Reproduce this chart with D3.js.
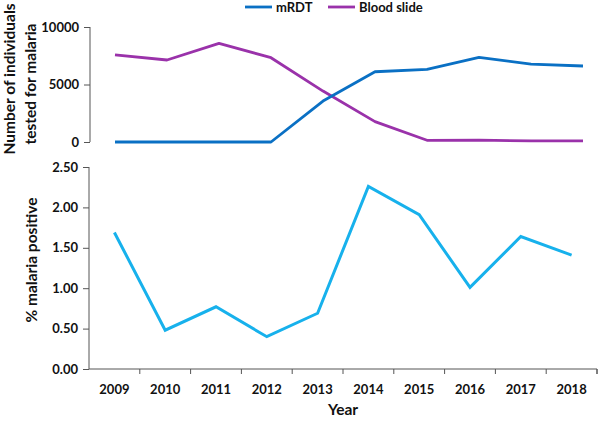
<!DOCTYPE html>
<html><head><meta charset="utf-8">
<script src="https://cdn.jsdelivr.net/npm/d3@7"></script>
<style>body{margin:0;background:#fff}svg{display:block}text{font-family:Lato,"Open Sans",sans-serif;font-weight:bold;fill:#111}</style>
</head><body><svg id="c" width="598" height="421"></svg>
<script>
const years = ["2009","2010","2011","2012","2013","2014","2015","2016","2017","2018"];
const mRDT = [0,0,0,0,3560,6110,6320,7360,6780,6610];
const bloodSlide = [7570,7130,8580,7330,4430,1770,150,170,90,90];
const pctPositive = [1.69,0.48,0.77,0.40,0.69,2.26,1.91,1.01,1.64,1.41];
const topTicks = [0,5000,10000];
const bottomTicks = [0,0.5,1,1.5,2,2.5];
const seriesNames = ["mRDT","Blood slide"];
const colors = {"mRDT":"#0A70C4","Blood slide":"#9A32AA",pct:"#17B1EC"};

const svg = d3.select("#c");

// Top panel
const xTop = d3.scalePoint().domain(years).range([115,583]);
const yTop = d3.scaleLinear().domain([0,10000]).range([142,27]);
const gTopAxis = svg.append("g").attr("transform","translate(90,0)")
  .call(d3.axisLeft(yTop).tickValues(topTicks).tickSize(6).tickPadding(5).tickFormat(d3.format("d")));
gTopAxis.select(".domain").attr("d","M0,27V142").attr("stroke","#555");
gTopAxis.selectAll(".tick line").attr("stroke","#555");
gTopAxis.selectAll("text").style("font-size","13px").attr("fill","#111");

const lineTop = d3.line().x((d,i)=>xTop(years[i])).y(d=>yTop(d));
[[bloodSlide,"Blood slide"],[mRDT,"mRDT"]].forEach(([arr,name])=>{
  svg.append("path").datum(arr).attr("d",lineTop).attr("fill","none")
    .attr("stroke",colors[name]).attr("stroke-width",2.8).attr("stroke-linejoin","round");
});

// Legend
const legX = [245,328];
seriesNames.forEach((n,i)=>{
  svg.append("line").attr("x1",legX[i]).attr("x2",legX[i]+27).attr("y1",7).attr("y2",7)
    .attr("stroke",colors[n]).attr("stroke-width",2.8);
  svg.append("text").attr("x",legX[i]+31).attr("y",11.5).style("font-size","13px").text(n);
});

// Top y title
svg.append("text").attr("transform","translate(15,79) rotate(-90)").attr("text-anchor","middle")
  .style("font-size","15.5px").text("Number of individuals");
svg.append("text").attr("transform","translate(36,84) rotate(-90)").attr("text-anchor","middle")
  .style("font-size","15.5px").text("tested for malaria");

// Bottom panel
const xBot = d3.scaleBand().domain(years).range([89,597]);
const yBot = d3.scaleLinear().domain([0,2.5]).range([369,167]);
const gBY = svg.append("g").attr("transform","translate(89,0)")
  .call(d3.axisLeft(yBot).tickValues(bottomTicks).tickSize(6).tickPadding(5).tickFormat(d3.format(".2f")));
const gBX = svg.append("g").attr("transform","translate(0,369)")
  .call(d3.axisBottom(xBot).tickSize(0).tickPadding(16));
gBX.selectAll(".tick line").remove();
gBX.selectAll(".sep").data(xBot.domain()).enter().append("line").attr("class","sep")
  .attr("x1",d=>xBot(d)+xBot.bandwidth()).attr("x2",d=>xBot(d)+xBot.bandwidth())
  .attr("y1",0).attr("y2",5).attr("stroke","#555");
[gBY,gBX].forEach(g=>{
  g.select(".domain").attr("stroke","#555");
  g.selectAll(".tick line").attr("stroke","#555");
  g.selectAll("text").style("font-size","13px").attr("fill","#111");
});
gBY.select(".domain").attr("d","M0,167V369");
gBX.select(".domain").attr("d","M89,0H597V5");

const lineBot = d3.line().x((d,i)=>xBot(years[i])+xBot.bandwidth()/2).y(d=>yBot(d));
svg.append("path").datum(pctPositive).attr("d",lineBot).attr("fill","none")
  .attr("stroke",colors.pct).attr("stroke-width",3).attr("stroke-linejoin","miter");

svg.append("text").attr("transform","translate(37,260) rotate(-90)").attr("text-anchor","middle")
  .style("font-size","15.5px").text("% malaria positive");
svg.append("text").attr("x",343).attr("y",415).attr("text-anchor","middle")
  .style("font-size","15.5px").text("Year");
</script></body></html>
